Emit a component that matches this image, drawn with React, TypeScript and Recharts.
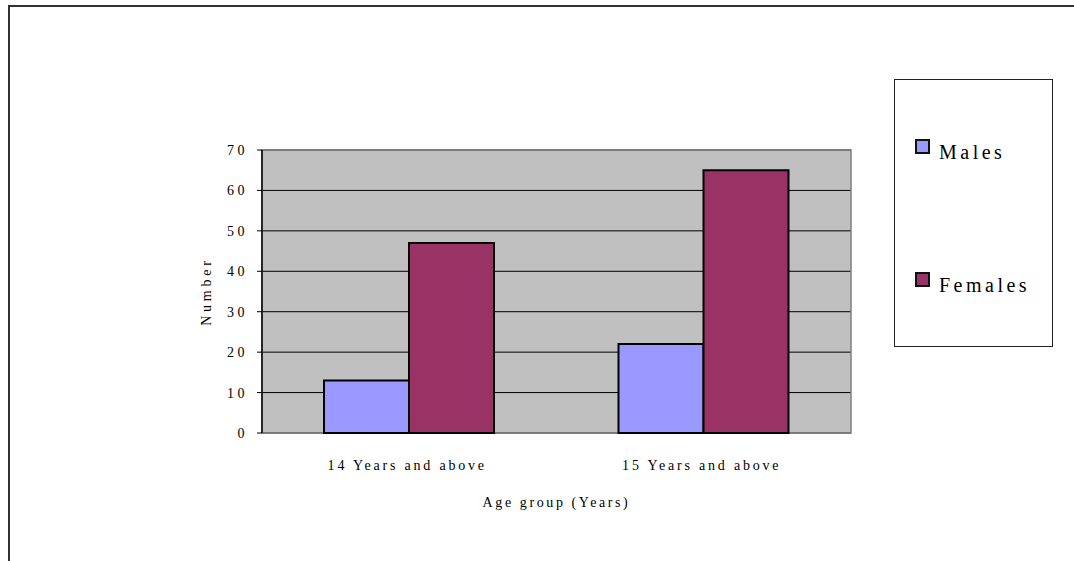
import {
  BarChart,
  Bar,
  XAxis,
  YAxis,
  CartesianGrid,
  Legend,
  ReferenceArea,
} from "recharts";

const ageGroups = ["14 Years and above", "15 Years and above"];
const seriesNames = ["Males", "Females"];
const males = [13, 22];
const females = [47, 65];
const yTicks = [0, 10, 20, 30, 40, 50, 60, 70];
const edgeTicks = [0, 1, 2];

const data = ageGroups.map((group, i) => ({
  group,
  Males: males[i],
  Females: females[i],
}));

const serif = "'Liberation Serif', 'Times New Roman', Times, serif";

// legend rows sit far apart inside a tall box
const legendRows = [59, 192];

function LegendBox({ payload }: any) {
  const items = [...(payload || [])].sort(
    (a: any, b: any) => seriesNames.indexOf(a.value) - seriesNames.indexOf(b.value)
  );
  return (
    <div
      style={{
        position: "relative",
        width: 159,
        height: 268,
        border: "1px solid #222",
        background: "#fff",
        boxSizing: "border-box",
      }}
    >
      {items.map((p: any, i: number) => (
        <div
          key={p.value}
          style={{
            position: "absolute",
            left: 20,
            top: legendRows[i],
            display: "flex",
            alignItems: "flex-start",
          }}
        >
          <span
            style={{
              display: "inline-block",
              width: 11,
              height: 11,
              background: p.color,
              border: "2px solid #111",
              marginRight: 9,
            }}
          />
          <span
            style={{
              fontFamily: serif,
              fontSize: 20,
              letterSpacing: 3.5,
              color: "#000",
              lineHeight: "20px",
              marginTop: 3,
            }}
          >
            {p.value}
          </span>
        </div>
      ))}
    </div>
  );
}

export default function App() {
  return (
    <div style={{ position: "absolute", left: 0, top: 0, width: 1074, height: 561, background: "#fff" }}>
      <div
        style={{
          position: "absolute",
          left: 8,
          top: 5,
          right: -10,
          bottom: -10,
          borderTop: "2px solid #333",
          borderLeft: "2px solid #333",
        }}
      />
      <BarChart
        width={1074}
        height={561}
        data={data}
        margin={{ top: 150, right: 223, bottom: 48, left: 202 }}
        barGap={0}
        barSize={85}
        style={{ fontFamily: serif }}
      >
        <CartesianGrid vertical={false} stroke="#000" fill="#C0C0C0" fillOpacity={1} />
        <XAxis
          xAxisId={0}
          type="number"
          domain={[0, 2]}
          ticks={edgeTicks}
          allowDataOverflow
          tickFormatter={() => ""}
          tickLine={{ stroke: "#000" }}
          tickSize={6}
          axisLine={false}
          height={0}
        />
        <XAxis
          xAxisId="cat"
          dataKey="group"
          tickLine={false}
          tickSize={0}
          tickMargin={27}
          axisLine={false}
          height={80}
          tick={{ fontFamily: serif, fontSize: 14, letterSpacing: 2.8, fill: "#000", dx: -2 }}
          label={{
            position: "insideBottom",
            content: ({ viewBox }: any) => (
              <text
                x={viewBox.x + viewBox.width / 2}
                y={viewBox.y + 69}
                textAnchor="middle"
                dominantBaseline="central"
                fontFamily={serif}
                fontSize={14}
                letterSpacing={2.6}
                fill="#000"
              >
                Age group (Years)
              </text>
            ),
          }}
        />
        <YAxis
          domain={[0, 70]}
          ticks={yTicks}
          width={60}
          tickSize={5}
          tickMargin={9}
          axisLine={{ stroke: "#000", strokeWidth: 1.5 }}
          tickLine={{ stroke: "#000" }}
          tick={{ fontFamily: serif, fontSize: 14, letterSpacing: 3.5, fill: "#000" }}
          label={{
            position: "insideLeft",
            content: ({ viewBox }: any) => {
              const cx = viewBox.x + 4;
              const cy = viewBox.y + viewBox.height / 2;
              return (
                <text
                  x={cx}
                  y={cy}
                  transform={`rotate(-90, ${cx}, ${cy})`}
                  textAnchor="middle"
                  dominantBaseline="central"
                  fontFamily={serif}
                  fontSize={14}
                  letterSpacing={3.8}
                  fill="#000"
                >
                  Number
                </text>
              );
            },
          }}
        />
        <ReferenceArea xAxisId="cat" y1={0} y2={70} fill="none" stroke="#808080" strokeWidth={1.5} />
        <Bar xAxisId="cat" dataKey="Males" fill="#9999FF" stroke="#000" strokeWidth={2} isAnimationActive={false} />
        <Bar xAxisId="cat" dataKey="Females" fill="#993366" stroke="#000" strokeWidth={2} isAnimationActive={false} />
        <Legend
          layout="vertical"
          align="center"
          verticalAlign="middle"
          content={(props: any) => <LegendBox {...props} />}
          wrapperStyle={{ left: 894, top: 79, width: 159, height: 268 }}
        />
      </BarChart>
    </div>
  );
}
